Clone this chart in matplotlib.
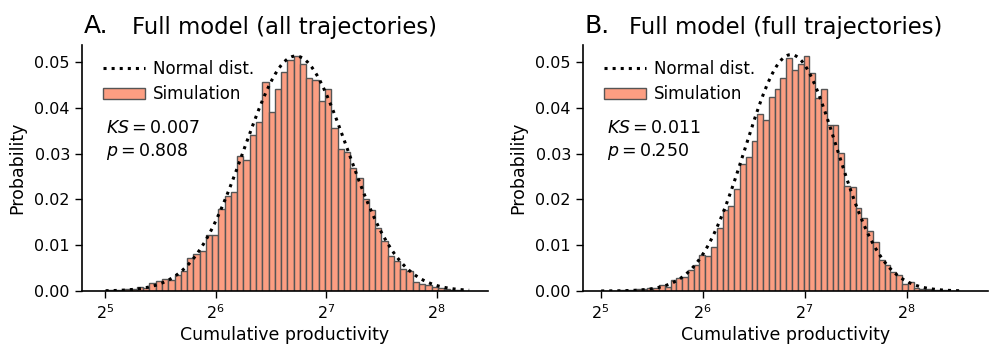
import numpy as np
import matplotlib
matplotlib.use("Agg")
import matplotlib.pyplot as plt
from matplotlib.patches import Patch
from matplotlib.lines import Line2D

# ---------------- data ----------------
# histogram bins are equal-width in log2(productivity)
bin_start_log2 = 5.005
bin_width_log2 = 0.0567

probs_all = [0.0002, 0.0002, 0.0003, 0.0004, 0.0005, 0.0009, 0.0007, 0.0017, 0.0022, 0.0026,
             0.0023, 0.0034, 0.0044, 0.0071, 0.0081, 0.0087, 0.0122, 0.0122, 0.0179, 0.0208,
             0.0217, 0.0295, 0.0285, 0.0341, 0.0368, 0.0457, 0.0391, 0.0442, 0.0477, 0.0505,
             0.0512, 0.0495, 0.0466, 0.0461, 0.0415, 0.0440, 0.0355, 0.0309, 0.0303, 0.0269,
             0.0246, 0.0200, 0.0177, 0.0138, 0.0109, 0.0076, 0.0066, 0.0048, 0.0044, 0.0020,
             0.0015, 0.0013, 0.0009, 0.0006, 0.0004, 0.0003, 0.0002, 0.0001]

probs_full = [0.0001, 0.0001, 0.0001, 0.0002, 0.0002, 0.0003, 0.0005, 0.0005, 0.0007, 0.0007,
              0.0013, 0.0009, 0.0023, 0.0029, 0.0031, 0.0046, 0.0057, 0.0079, 0.0076, 0.0095,
              0.0138, 0.0177, 0.0186, 0.0222, 0.0278, 0.0293, 0.0328, 0.0386, 0.0373, 0.0424,
              0.0440, 0.0466, 0.0509, 0.0482, 0.0496, 0.0513, 0.0475, 0.0421, 0.0440, 0.0363,
              0.0362, 0.0301, 0.0230, 0.0228, 0.0181, 0.0160, 0.0131, 0.0108, 0.0068, 0.0057,
              0.0042, 0.0036, 0.0015, 0.0019, 0.0007, 0.0005, 0.0004, 0.0003, 0.0002, 0.0002,
              0.0001, 0.0001]

# fitted normal distribution (in log2 units) and its peak probability
norm_all = dict(mu=6.725, sigma=0.465, peak=0.0513)
norm_full = dict(mu=6.866, sigma=0.448, peak=0.0516)

ks_all = (0.007, 0.808)
ks_full = (0.011, 0.250)

titles = ["Full model (all trajectories)", "Full model (full trajectories)"]
panel_letters = ["A.", "B."]
xlims_log2 = [(4.789, 8.464), (4.824, 8.797)]
yticks = [0.00, 0.01, 0.02, 0.03, 0.04, 0.05]
xtick_exps = [5, 6, 7, 8]

# ---------------- figure ----------------
W, H = 996, 357
fig = plt.figure(figsize=(W / 100, H / 100), dpi=100)

axes_px = [(81.7, 488.0), (582.7, 988.0)]
top_px, bottom_px = 45.0, 291.0

bar_color = "#FC9E82"
edge_color = "#555555"

datasets = [(probs_all, norm_all, ks_all), (probs_full, norm_full, ks_full)]

for i, ((probs, nrm, ks), (l, r)) in enumerate(zip(datasets, axes_px)):
    ax_w = r - l
    ax_h = bottom_px - top_px
    ax = fig.add_axes([l / W, (H - bottom_px) / H, ax_w / W, ax_h / H])
    ax.set_xscale("log", base=2)

    n = len(probs)
    left_log = bin_start_log2 + bin_width_log2 * np.arange(n)
    lefts = 2.0 ** left_log
    widths = 2.0 ** (left_log + bin_width_log2) - lefts
    ax.bar(lefts, probs, width=widths, align="edge", color=bar_color,
           edgecolor=edge_color, linewidth=1.0, zorder=2)

    xs_log = np.linspace(bin_start_log2, bin_start_log2 + bin_width_log2 * n, 400)
    ys = nrm["peak"] * np.exp(-(xs_log - nrm["mu"]) ** 2 / (2 * nrm["sigma"] ** 2))
    ax.plot(2.0 ** xs_log, ys, color="black", linestyle=":", linewidth=2.2, zorder=3)

    ax.set_xlim(2.0 ** xlims_log2[i][0], 2.0 ** xlims_log2[i][1])
    ax.set_ylim(0, 0.0537)
    ax.set_yticks(yticks)
    ax.set_yticklabels([f"{v:.2f}" for v in yticks])
    ax.set_xticks([2.0 ** e for e in xtick_exps])
    ax.set_xticklabels([rf"$2^{{{e}}}$" for e in xtick_exps])
    ax.minorticks_off()
    ax.tick_params(axis="both", labelsize=11.5, length=5, width=1)

    for s in ["top", "right"]:
        ax.spines[s].set_visible(False)
    for s in ["left", "bottom"]:
        ax.spines[s].set_linewidth(1.2)

    ax.set_xlabel("Cumulative productivity", fontsize=12.5, labelpad=3)
    ax.set_ylabel("Probability", fontsize=12.5, labelpad=6)
    ax.set_title(titles[i], fontsize=16.4, pad=8)
    fig.text((l + 2) / W, 1 - 33 / H, panel_letters[i], fontsize=18, ha="left", va="baseline")

    handles = [Line2D([0], [0], color="black", linestyle=":", linewidth=2.2),
               Patch(facecolor=bar_color, edgecolor=edge_color, linewidth=1.0)]
    ax.legend(handles, ["Normal dist.", "Simulation"], loc="upper left", frameon=False,
              fontsize=12, handlelength=2.5, handletextpad=0.5, borderaxespad=0.0,
              bbox_to_anchor=(15.0 / ax_w, 1 - 8.0 / ax_h), labelspacing=0.45)

    ax.text(0.06, 0.70, rf"$KS = {ks[0]:.3f}$" + "\n" + rf"$p = {ks[1]:.3f}$",
            transform=ax.transAxes, fontsize=12.5, va="top", ha="left", linespacing=1.25)

fig.savefig("out.png", dpi=100)
